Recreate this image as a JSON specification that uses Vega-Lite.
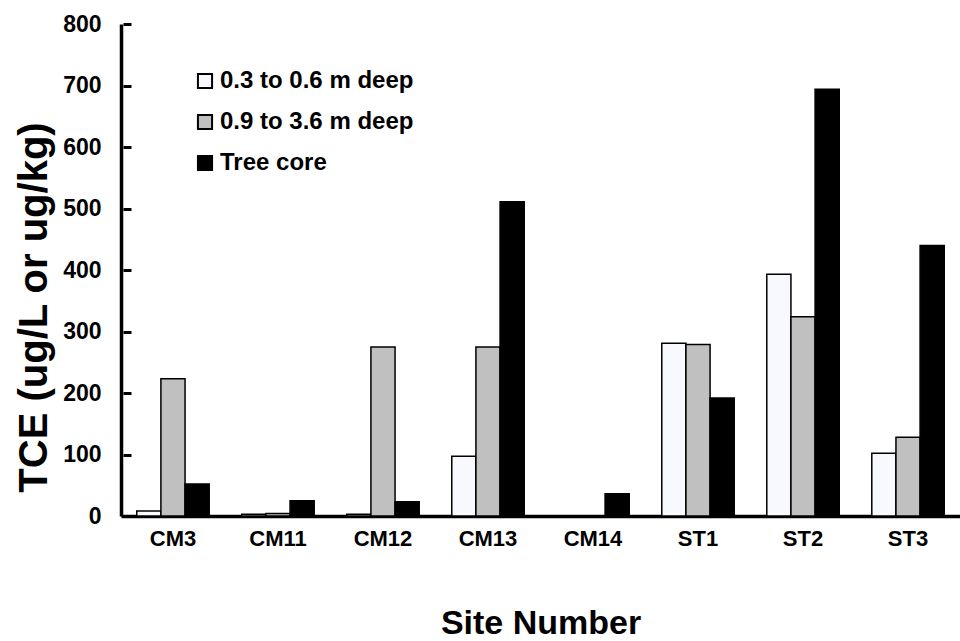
{
  "$schema": "https://vega.github.io/schema/vega-lite/v6.json",
  "autosize": "none",
  "width": 839,
  "height": 492,
  "padding": {"left": 121, "top": 24, "right": 0, "bottom": 125},
  "background": "white",
  "config": {"view": {"stroke": null}, "font": "Liberation Sans"},
  "data": {"values": [
    {"site": "CM3", "series": "0.3 to 0.6 m deep", "tce": 8},
    {"site": "CM3", "series": "0.9 to 3.6 m deep", "tce": 223},
    {"site": "CM3", "series": "Tree core", "tce": 52},
    {"site": "CM11", "series": "0.3 to 0.6 m deep", "tce": 3},
    {"site": "CM11", "series": "0.9 to 3.6 m deep", "tce": 4},
    {"site": "CM11", "series": "Tree core", "tce": 25},
    {"site": "CM12", "series": "0.3 to 0.6 m deep", "tce": 3},
    {"site": "CM12", "series": "0.9 to 3.6 m deep", "tce": 275},
    {"site": "CM12", "series": "Tree core", "tce": 23},
    {"site": "CM13", "series": "0.3 to 0.6 m deep", "tce": 97},
    {"site": "CM13", "series": "0.9 to 3.6 m deep", "tce": 275},
    {"site": "CM13", "series": "Tree core", "tce": 511},
    {"site": "CM14", "series": "0.3 to 0.6 m deep", "tce": 0},
    {"site": "CM14", "series": "0.9 to 3.6 m deep", "tce": 0},
    {"site": "CM14", "series": "Tree core", "tce": 36},
    {"site": "ST1", "series": "0.3 to 0.6 m deep", "tce": 281},
    {"site": "ST1", "series": "0.9 to 3.6 m deep", "tce": 279},
    {"site": "ST1", "series": "Tree core", "tce": 192},
    {"site": "ST2", "series": "0.3 to 0.6 m deep", "tce": 393},
    {"site": "ST2", "series": "0.9 to 3.6 m deep", "tce": 324},
    {"site": "ST2", "series": "Tree core", "tce": 694},
    {"site": "ST3", "series": "0.3 to 0.6 m deep", "tce": 102},
    {"site": "ST3", "series": "0.9 to 3.6 m deep", "tce": 128},
    {"site": "ST3", "series": "Tree core", "tce": 440}
  ]},
  "encoding": {
    "x": {
      "field": "site", "type": "nominal", "sort": null,
      "scale": {"paddingInner": 0.31, "paddingOuter": 0.15},
      "axis": {
        "title": "Site Number", "titleFontSize": 34, "titleFontWeight": "bold", "titlePadding": 57,
        "labelAngle": 0, "labelFontSize": 22, "labelFontWeight": "bold", "labelColor": "black", "labelPadding": 12,
        "ticks": false, "domainColor": "black", "domainWidth": 3.5, "titleColor": "black"
      }
    },
    "xOffset": {"field": "series", "type": "nominal", "scale": {"paddingInner": 0, "paddingOuter": 0}},
    "y": {
      "field": "tce", "type": "quantitative",
      "scale": {"domain": [0, 800], "nice": false}
    }
  },
  "layer": [
    {
      "mark": {"type": "bar", "stroke": "black", "strokeWidth": 1.5},
      "encoding": {
        "y": {
          "field": "tce", "type": "quantitative",
          "scale": {"domain": [0, 800], "nice": false},
          "axis": {
            "title": "TCE (ug/L or ug/kg)", "titleFontSize": 40, "titleFontWeight": "bold", "titleColor": "black", "titlePadding": 8, "titleY": 283,
            "values": [0, 100, 200, 300, 400, 500, 600, 700, 800],
            "labelFontSize": 23, "labelFontWeight": "bold", "labelColor": "black", "labelPadding": 20,
            "ticks": false,
            "grid": false, "domainColor": "black", "domainWidth": 3.5
          }
        },
        "fill": {
          "field": "series", "type": "nominal",
          "scale": {"domain": ["0.3 to 0.6 m deep", "0.9 to 3.6 m deep", "Tree core"], "range": ["#f8f8ff", "#c0c0c0", "#000000"]},
          "legend": {
            "title": null, "orient": "none", "legendX": 72, "legendY": 45,
            "symbolType": "square", "symbolSize": 200, "symbolStrokeColor": "black", "symbolStrokeWidth": 2,
            "labelFontSize": 24, "labelFontWeight": "bold", "labelColor": "black", "labelOffset": 3, "labelLimit": 400,
            "rowPadding": 17
          }
        }
      }
    },
    {
      "mark": {"type": "bar", "fillOpacity": 0, "strokeOpacity": 0},
      "encoding": {
        "y": {
          "field": "tce", "type": "quantitative",
          "scale": {"domain": [0, 800], "nice": false},
          "axis": {
            "orient": "right", "offset": -837, "title": null, "labels": false, "domain": false, "grid": false,
            "values": [0, 100, 200, 300, 400, 500, 600, 700, 800],
            "ticks": true, "tickSize": 8, "tickColor": "black", "tickWidth": 3
          }
        }
      }
    }
  ],
  "resolve": {"axis": {"y": "independent"}}
}
